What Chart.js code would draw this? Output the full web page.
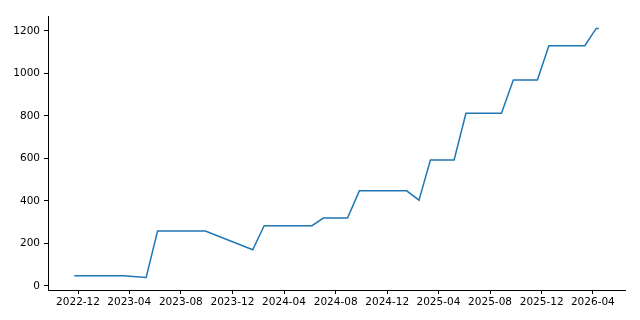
<!DOCTYPE html>
<html>
<head>
<meta charset="utf-8">
<script src="https://cdn.jsdelivr.net/npm/chart.js@4"></script>
<style>
  html, body { margin: 0; padding: 0; background: #fff; }
  canvas { display: block; }
</style>
</head>
<body>
<canvas id="chart" width="640" height="320"></canvas>
<script>
// knot points
const dates = [
  '2022-11-22', '2023-03-19', '2023-05-11', '2023-06-07', '2023-09-28',
  '2024-01-18', '2024-02-14', '2024-06-06', '2024-07-03', '2024-08-29',
  '2024-09-26', '2025-01-16', '2025-02-14', '2025-03-13', '2025-05-08',
  '2025-06-05', '2025-08-28', '2025-09-25', '2025-11-21', '2025-12-18',
  '2026-03-13', '2026-04-09', '2026-04-15'
];
const values = [
  48, 48, 39, 258, 258,
  170, 283, 283, 319, 319,
  447, 447, 403, 592, 592,
  812, 812, 969, 969, 1130,
  1130, 1211, 1211
];
const xTickLabels = [
  '2022-12', '2023-04', '2023-08', '2023-12', '2024-04', '2024-08',
  '2024-12', '2025-04', '2025-08', '2025-12', '2026-04'
];
const yTicks = [0, 200, 400, 600, 800, 1000, 1200];

const DAY = 86400000;
const toDay = (s) => {
  const [y, m, d] = s.split('-').map(Number);
  return Date.UTC(y, m - 1, d) / DAY;
};
const points = dates.map((d, i) => ({ x: toDay(d), y: values[i] }));
const xTickVals = xTickLabels.map((s) => toDay(s + '-01'));
const labelFor = new Map(xTickVals.map((v, i) => [v, xTickLabels[i]]));

// matplotlib-like 5% margins
const xs = points.map(p => p.x), ys = points.map(p => p.y);
const xMin = Math.min(...xs), xMax = Math.max(...xs);
const yMin = Math.min(...ys), yMax = Math.max(...ys);
const xPad = (xMax - xMin) * 0.05, yPad = (yMax - yMin) * 0.05;

const font = { family: 'DejaVu Sans', size: 10.5 };

new Chart(document.getElementById('chart').getContext('2d'), {
  type: 'line',
  data: {
    datasets: [{
      data: points,
      borderColor: '#1f77b4',
      borderWidth: 1.5,
      pointRadius: 0,
      fill: false,
      tension: 0
    }]
  },
  options: {
    responsive: false,
    animation: false,
    layout: { padding: { left: 0, top: 16, right: 15, bottom: 0 } },
    plugins: { legend: { display: false }, tooltip: { enabled: false } },
    scales: {
      x: {
        type: 'linear',
        min: xMin - xPad,
        max: xMax + xPad,
        afterBuildTicks: (scale) => { scale.ticks = xTickVals.map(v => ({ value: v })); },
        afterFit: (scale) => { scale.height = 30; },
        ticks: {
          color: '#000',
          font,
          padding: 2,
          maxRotation: 0,
          autoSkip: false,
          callback: (v) => labelFor.get(v) ?? ''
        },
        grid: { drawOnChartArea: false, drawTicks: true, tickLength: 4, color: '#000' },
        border: { color: '#000', width: 1 }
      },
      y: {
        type: 'linear',
        min: yMin - yPad,
        max: yMax + yPad,
        afterBuildTicks: (scale) => { scale.ticks = yTicks.map(v => ({ value: v })); },
        afterFit: (scale) => { scale.width = 48; },
        ticks: { color: '#000', font, padding: 4, callback: (v) => String(v) },
        grid: { drawOnChartArea: false, drawTicks: true, tickLength: 4, color: '#000' },
        border: { color: '#000', width: 1 }
      }
    }
  }
});
</script>
</body>
</html>
